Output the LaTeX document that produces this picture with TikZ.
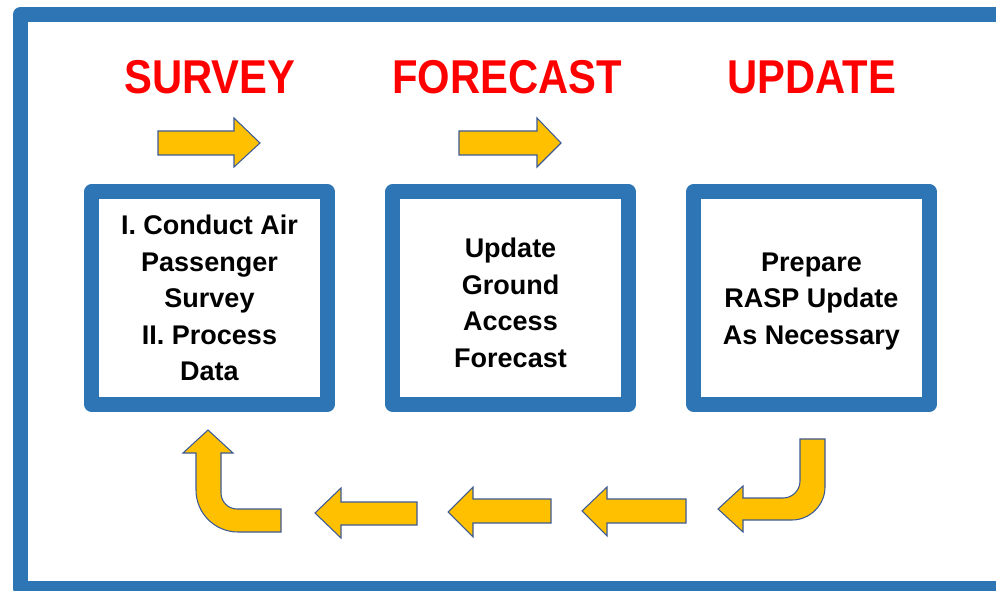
\documentclass[tikz,border=0pt]{standalone}
\usepackage{fontspec}
\setmainfont{Liberation Sans}
\definecolor{frameblue}{RGB}{46,117,182}
\definecolor{titlered}{RGB}{255,0,0}
\definecolor{arrowyellow}{RGB}{255,192,0}
\definecolor{arrowedge}{RGB}{60,90,150}
\tikzset{
  frameline/.style={draw=frameblue, line width=11.25pt, line join=round},
  stepbox/.style={draw=frameblue, line width=11.25pt, line join=round, fill=white,
    minimum width=176.6pt, minimum height=159.4pt, inner sep=0pt},
  boxtext/.style={align=center, inner sep=0pt,
    font=\fontsize{20.25pt}{27.4pt}\selectfont\bfseries, text=black},
  titletext/.style={text=titlered, anchor=base, inner sep=0pt,
    font=\fontsize{35.6pt}{40pt}\selectfont\bfseries},
  blockarrow/.style={fill=arrowyellow, draw=arrowedge, line width=0.8pt, line join=miter}
}
\begin{document}
\begin{tikzpicture}[x=0.75pt,y=-0.75pt]
\useasboundingbox (0,0) rectangle (996,591);
\clip (0,0) rectangle (996,591);
% outer frame
\draw[frameline] (20.5,14.5) rectangle (1012,588.5);
% titles
\node[titletext] (t1) at (210,94) {\scalebox{0.88}[1]{SURVEY}};
\node[titletext] (t2) at (507,94) {\scalebox{0.88}[1]{FORECAST}};
\node[titletext] (t3) at (812,94) {\scalebox{0.88}[1]{UPDATE}};
% boxes
\node[stepbox] (b1) at (209.5,298) {};
\node[stepbox] (b2) at (510.5,298) {};
\node[stepbox] (b3) at (811.5,298) {};
\node[boxtext] (b1t) at (209.5,298) {I. Conduct Air\\Passenger\\Survey\\II. Process\\Data};
\node[boxtext] (b2t) at (510.5,303) {Update\\Ground\\Access\\Forecast};
\node[boxtext] (b3t) at (811.5,301.5) {Prepare\\RASP Update\\As Necessary};
% top arrows
\draw[blockarrow] (158,131) -- (234,131) -- (234,118) -- (260,143) -- (234,167) -- (234,155) -- (158,155) -- cycle;
\draw[blockarrow] (459,131) -- (537,131) -- (537,118) -- (561,143) -- (537,167) -- (537,155) -- (459,155) -- cycle;
% bottom straight arrows
\draw[blockarrow] (686,499) -- (607,499) -- (607,487) -- (582,511) -- (607,536) -- (607,523) -- (686,523) -- cycle;
\draw[blockarrow] (551,499) -- (473,499) -- (473,487) -- (448,512) -- (473,537) -- (473,523) -- (551,523) -- cycle;
\draw[blockarrow] (417,502) -- (341,502) -- (341,488) -- (315,513) -- (341,538) -- (341,525) -- (417,525) -- cycle;
% right curved arrow
\draw[blockarrow] (800,439) -- (825,439) -- (825,487)
  .. controls (825,505) and (810,520) .. (792,520)
  -- (743,520) -- (743,532) -- (718,509) -- (743,486) -- (743,498) -- (783,498)
  .. controls (792.4,498) and (800,490.4) .. (800,481) -- cycle;
% left curved arrow
\draw[blockarrow] (208,430) -- (233,453) -- (221,453) -- (221,493)
  .. controls (221,501.8) and (228.2,509) .. (237,509)
  -- (281,509) -- (281,532) -- (238,532)
  .. controls (214.8,532) and (196,513.2) .. (196,490)
  -- (196,453) -- (183,453) -- cycle;
\end{tikzpicture}
\end{document}
